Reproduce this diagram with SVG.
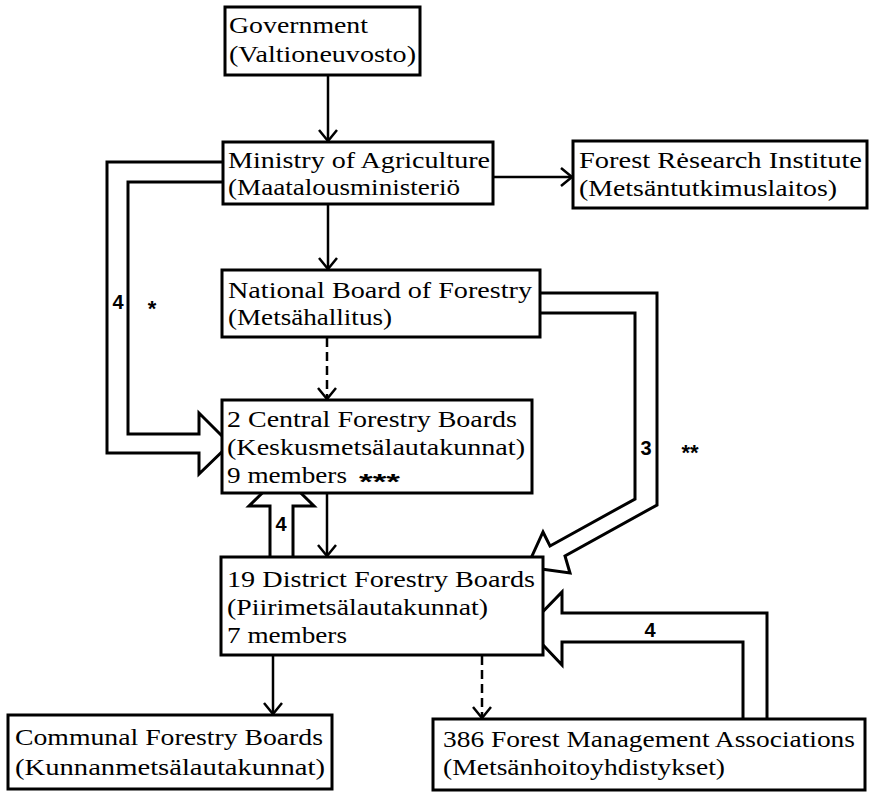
<svg xmlns="http://www.w3.org/2000/svg" width="869" height="792" viewBox="0 0 869 792">
<style>
.box{fill:#fff;stroke:#000;stroke-width:3}
.t{font-family:"Liberation Serif","Times New Roman",serif;font-size:24px;fill:#000}
.lbl{font-family:"Liberation Sans",Arial,sans-serif;font-size:20px;font-weight:bold;fill:#000}
.ast{font-family:"Liberation Sans",Arial,sans-serif;font-size:22px;font-weight:bold;fill:#000}
.con{fill:none;stroke:#000;stroke-width:2.5}
.dash{stroke-dasharray:9 5}
.hollow{fill:#fff;stroke:#000;stroke-width:3;stroke-linejoin:miter}
</style>
<defs>
<marker id="ah" markerWidth="16" markerHeight="20" refX="13" refY="10" orient="auto" markerUnits="userSpaceOnUse">
<path d="M2,1 L13,10 L2,19" fill="none" stroke="#000" stroke-width="2.5"/>
</marker>
</defs>
<g id="connectors">
<polygon class="hollow" points="233,162 107,162 107,453 199,453 199,474 230,444 199,413 199,434 128,434 128,182 233,182"/>
<polygon class="hollow" points="530,293 657,293 657,505 565,556 570,573 527,567 543,532 550,546 635,499 635,313 530,313"/>
<polygon class="hollow" points="270,567 270,506 249,506 281.5,474 314,506 293,506 293,567"/>
<polygon class="hollow" points="767,729 767,613 562,613 562,592 527,628 562,665 562,642 743,642 743,729"/>
<line class="con" x1="328" y1="76" x2="328" y2="141" marker-end="url(#ah)"/>
<line class="con" x1="328" y1="205" x2="328" y2="269" marker-end="url(#ah)"/>
<line class="con" x1="494" y1="177" x2="572" y2="177" marker-end="url(#ah)"/>
<line class="con dash" x1="327" y1="338" x2="327" y2="399" marker-end="url(#ah)"/>
<line class="con" x1="327" y1="494" x2="327" y2="556" marker-end="url(#ah)"/>
<line class="con" x1="273" y1="656" x2="273" y2="714" marker-end="url(#ah)"/>
<line class="con dash" x1="482" y1="656" x2="482" y2="718" marker-end="url(#ah)"/>
<text class="lbl" x="118" y="309" text-anchor="middle">4</text>
<text class="ast" x="152" y="316" text-anchor="middle">*</text>
<text class="lbl" x="646" y="455" text-anchor="middle">3</text>
<text class="ast" x="690" y="460" text-anchor="middle">**</text>
<text class="lbl" x="281" y="531" text-anchor="middle">4</text>
<text class="lbl" x="650" y="637" text-anchor="middle">4</text>
</g>
<g id="government">
<rect class="box" x="225" y="7" width="195" height="68"/>
<text class="t" x="229" y="33" textLength="139" lengthAdjust="spacingAndGlyphs">Government</text>
<text class="t" x="229" y="62" textLength="187" lengthAdjust="spacingAndGlyphs">(Valtioneuvosto)</text>
</g>
<g id="ministry">
<rect class="box" x="223" y="142" width="270" height="62"/>
<text class="t" x="228" y="168" textLength="262" lengthAdjust="spacingAndGlyphs">Ministry of Agriculture</text>
<text class="t" x="228" y="195" textLength="232" lengthAdjust="spacingAndGlyphs">(Maatalousministeriö</text>
</g>
<g id="research">
<rect class="box" x="573" y="141" width="294" height="67"/>
<text class="t" x="579" y="168" textLength="283" lengthAdjust="spacingAndGlyphs">Forest Rėsearch Institute</text>
<text class="t" x="579" y="196" textLength="258" lengthAdjust="spacingAndGlyphs">(Metsäntutkimuslaitos)</text>
</g>
<g id="national">
<rect class="box" x="222" y="270" width="318" height="67"/>
<text class="t" x="228" y="298" textLength="304" lengthAdjust="spacingAndGlyphs">National Board of Forestry</text>
<text class="t" x="228" y="325" textLength="164" lengthAdjust="spacingAndGlyphs">(Metsähallitus)</text>
</g>
<g id="central">
<rect class="box" x="222" y="400" width="310" height="93"/>
<text class="t" x="227" y="427" textLength="290" lengthAdjust="spacingAndGlyphs">2 Central Forestry Boards</text>
<text class="t" x="227" y="455" textLength="298" lengthAdjust="spacingAndGlyphs">(Keskusmetsälautakunnat)</text>
<text class="t" x="227" y="483" textLength="120" lengthAdjust="spacingAndGlyphs">9 members</text>
<text class="ast" x="359" y="489" textLength="41" lengthAdjust="spacingAndGlyphs">***</text>
</g>
<g id="district">
<rect class="box" x="221" y="557" width="322" height="98"/>
<text class="t" x="227" y="587" textLength="308" lengthAdjust="spacingAndGlyphs">19 District Forestry Boards</text>
<text class="t" x="227" y="615" textLength="261" lengthAdjust="spacingAndGlyphs">(Piirimetsälautakunnat)</text>
<text class="t" x="227" y="643" textLength="120" lengthAdjust="spacingAndGlyphs">7 members</text>
</g>
<g id="communal">
<rect class="box" x="8" y="715" width="324" height="74"/>
<text class="t" x="15" y="745" textLength="308" lengthAdjust="spacingAndGlyphs">Communal Forestry Boards</text>
<text class="t" x="15" y="775" textLength="310" lengthAdjust="spacingAndGlyphs">(Kunnanmetsälautakunnat)</text>
</g>
<g id="fma">
<rect class="box" x="433" y="719" width="432" height="71"/>
<text class="t" x="443" y="747" textLength="412" lengthAdjust="spacingAndGlyphs">386 Forest Management Associations</text>
<text class="t" x="443" y="775" textLength="282" lengthAdjust="spacingAndGlyphs">(Metsänhoitoyhdistykset)</text>
</g>
</svg>
